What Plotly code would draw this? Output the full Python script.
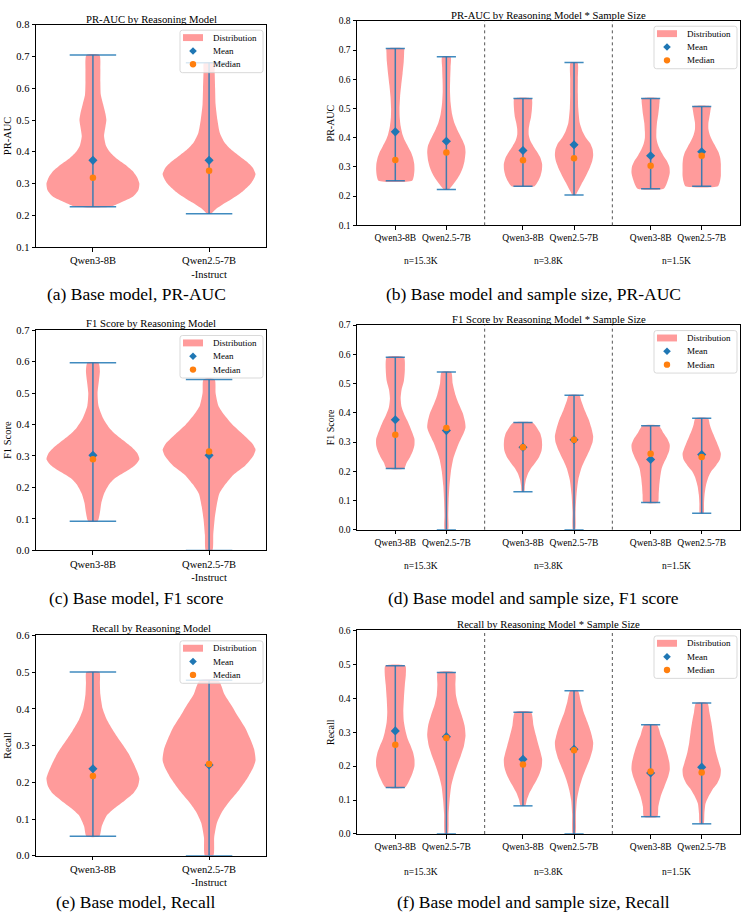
import plotly.graph_objects as go

FONT = '"Liberation Serif", "Times New Roman", Times, serif'

# ---------------- categories / labels ----------------
model_labels = ["Qwen3-8B", "Qwen2.5-7B<br>-Instruct"]
size_model_labels = ["Qwen3-8B", "Qwen2.5-7B"] * 3
size_groups = ["n=15.3K", "n=3.8K", "n=1.5K"]
legend_labels = ["Distribution", "Mean", "Median"]
model_positions = [1, 2]
size_positions = [0.8, 1.2, 1.8, 2.2, 2.8, 3.2]
group_positions = [1, 2, 3]
group_dividers = [1.5, 2.5]

# ---------------- (a) PR-AUC by model ----------------
pr_model_levels = [
    [0.227, 0.24, 0.26, 0.28, 0.30, 0.32, 0.34, 0.36, 0.38, 0.40, 0.42, 0.45, 0.48, 0.50, 0.52, 0.55, 0.58, 0.62, 0.66, 0.705],
    [0.205, 0.22, 0.24, 0.26, 0.28, 0.30, 0.32, 0.33, 0.35, 0.37, 0.39, 0.41, 0.43, 0.46, 0.50, 0.55, 0.60, 0.65, 0.68],
]
pr_model_density = [
    [0.38, 0.6, 0.87, 0.98, 1.0, 0.95, 0.85, 0.69, 0.5, 0.36, 0.28, 0.24, 0.27, 0.29, 0.27, 0.22, 0.17, 0.16, 0.16, 0.14],
    [0.04, 0.15, 0.36, 0.58, 0.76, 0.9, 0.98, 1.0, 0.94, 0.8, 0.62, 0.45, 0.33, 0.23, 0.18, 0.14, 0.13, 0.12, 0.11],
]
pr_model_mean = [0.373, 0.373]
pr_model_median = [0.318, 0.340]

# ---------------- (b) PR-AUC by model * sample size ----------------
pr_size_levels = [
    [0.253, 0.27, 0.29, 0.31, 0.33, 0.35, 0.37, 0.39, 0.41, 0.44, 0.47, 0.50, 0.54, 0.58, 0.62, 0.66, 0.69, 0.705],
    [0.223, 0.24, 0.26, 0.28, 0.30, 0.32, 0.35, 0.37, 0.39, 0.41, 0.43, 0.45, 0.48, 0.52, 0.56, 0.60, 0.64, 0.677],
    [0.234, 0.25, 0.27, 0.29, 0.31, 0.33, 0.35, 0.37, 0.39, 0.41, 0.43, 0.45, 0.47, 0.50, 0.534],
    [0.204, 0.22, 0.24, 0.26, 0.28, 0.30, 0.32, 0.34, 0.36, 0.38, 0.40, 0.42, 0.45, 0.50, 0.55, 0.60, 0.657],
    [0.225, 0.24, 0.26, 0.28, 0.30, 0.32, 0.34, 0.36, 0.38, 0.40, 0.42, 0.45, 0.48, 0.51, 0.534],
    [0.234, 0.25, 0.27, 0.29, 0.31, 0.33, 0.35, 0.37, 0.39, 0.41, 0.43, 0.45, 0.47, 0.49, 0.507],
]
pr_size_density = [
    [0.88, 0.97, 1.0, 0.99, 0.93, 0.82, 0.66, 0.5, 0.38, 0.28, 0.23, 0.22, 0.25, 0.31, 0.38, 0.44, 0.46, 0.45],
    [0.12, 0.35, 0.58, 0.75, 0.87, 0.95, 1.0, 0.97, 0.85, 0.7, 0.55, 0.42, 0.3, 0.22, 0.19, 0.2, 0.22, 0.22],
    [0.6, 0.78, 0.92, 0.99, 1.0, 0.92, 0.75, 0.55, 0.38, 0.3, 0.3, 0.35, 0.42, 0.47, 0.45],
    [0.08, 0.22, 0.38, 0.55, 0.7, 0.84, 0.95, 1.0, 0.97, 0.85, 0.62, 0.45, 0.3, 0.22, 0.2, 0.2, 0.18],
    [0.68, 0.82, 0.93, 1.0, 0.98, 0.85, 0.65, 0.48, 0.36, 0.3, 0.3, 0.33, 0.4, 0.45, 0.45],
    [0.85, 0.95, 1.0, 1.0, 1.0, 0.97, 0.88, 0.72, 0.55, 0.42, 0.35, 0.35, 0.4, 0.45, 0.47],
]
pr_size_mean = [0.420, 0.388, 0.356, 0.376, 0.338, 0.352]
pr_size_median = [0.324, 0.349, 0.323, 0.330, 0.304, 0.338]

# ---------------- (c) F1 by model ----------------
f1_model_levels = [
    [0.093, 0.12, 0.15, 0.18, 0.21, 0.23, 0.25, 0.27, 0.29, 0.31, 0.33, 0.35, 0.37, 0.39, 0.42, 0.46, 0.50, 0.54, 0.57, 0.596],
    [0.0, 0.05, 0.10, 0.14, 0.18, 0.21, 0.24, 0.27, 0.30, 0.32, 0.34, 0.37, 0.40, 0.43, 0.46, 0.50, 0.543],
]
f1_model_density = [
    [0.1, 0.15, 0.18, 0.24, 0.35, 0.48, 0.7, 0.9, 1.0, 0.95, 0.82, 0.65, 0.48, 0.35, 0.22, 0.12, 0.1, 0.13, 0.15, 0.12],
    [0.07, 0.09, 0.12, 0.16, 0.22, 0.35, 0.52, 0.78, 0.95, 1.0, 0.93, 0.72, 0.5, 0.33, 0.2, 0.14, 0.12],
]
f1_model_mean = [0.302, 0.302]
f1_model_median = [0.290, 0.314]

# ---------------- (d) F1 by model * sample size ----------------
f1_size_levels = [
    [0.209, 0.23, 0.25, 0.27, 0.29, 0.31, 0.33, 0.35, 0.37, 0.39, 0.42, 0.45, 0.48, 0.51, 0.55, 0.59],
    [0.0, 0.05, 0.10, 0.15, 0.20, 0.24, 0.27, 0.30, 0.33, 0.35, 0.37, 0.40, 0.43, 0.46, 0.50, 0.54],
    [0.13, 0.15, 0.17, 0.19, 0.21, 0.23, 0.25, 0.27, 0.29, 0.31, 0.33, 0.35, 0.367],
    [0.0, 0.06, 0.12, 0.17, 0.21, 0.24, 0.27, 0.30, 0.32, 0.35, 0.38, 0.41, 0.44, 0.46],
    [0.093, 0.12, 0.15, 0.18, 0.21, 0.23, 0.25, 0.27, 0.29, 0.31, 0.33, 0.356],
    [0.056, 0.09, 0.12, 0.15, 0.18, 0.20, 0.22, 0.24, 0.26, 0.28, 0.30, 0.32, 0.34, 0.36, 0.381],
]
f1_size_density = [
    [0.45, 0.6, 0.78, 0.92, 1.0, 1.0, 0.9, 0.78, 0.65, 0.5, 0.33, 0.28, 0.33, 0.45, 0.5, 0.45],
    [0.09, 0.1, 0.12, 0.16, 0.24, 0.35, 0.5, 0.68, 0.9, 1.0, 0.97, 0.85, 0.65, 0.48, 0.33, 0.25],
    [0.07, 0.1, 0.15, 0.25, 0.42, 0.65, 0.85, 0.97, 1.0, 0.98, 0.9, 0.72, 0.5],
    [0.06, 0.08, 0.13, 0.22, 0.38, 0.58, 0.8, 0.97, 1.0, 0.9, 0.75, 0.55, 0.38, 0.28],
    [0.38, 0.42, 0.45, 0.5, 0.58, 0.7, 0.85, 0.97, 1.0, 0.88, 0.68, 0.42],
    [0.1, 0.12, 0.15, 0.22, 0.35, 0.5, 0.75, 0.95, 1.0, 0.9, 0.78, 0.65, 0.52, 0.42, 0.33],
]
f1_size_mean = [0.376, 0.339, 0.282, 0.308, 0.240, 0.257]
f1_size_median = [0.325, 0.348, 0.282, 0.308, 0.260, 0.249]

# ---------------- (e) Recall by model ----------------
rc_model_levels = [
    [0.053, 0.08, 0.11, 0.13, 0.15, 0.17, 0.19, 0.21, 0.23, 0.25, 0.28, 0.31, 0.34, 0.37, 0.40, 0.44, 0.47, 0.50],
    [0.0, 0.05, 0.09, 0.12, 0.15, 0.18, 0.21, 0.24, 0.26, 0.29, 0.32, 0.35, 0.38, 0.41, 0.44, 0.478],
]
rc_model_density = [
    [0.14, 0.19, 0.3, 0.47, 0.68, 0.87, 0.97, 1.0, 0.95, 0.88, 0.76, 0.6, 0.44, 0.3, 0.21, 0.16, 0.15, 0.14],
    [0.09, 0.11, 0.17, 0.28, 0.45, 0.65, 0.82, 0.95, 1.0, 0.97, 0.88, 0.77, 0.62, 0.48, 0.33, 0.2],
]
rc_model_mean = [0.237, 0.247]
rc_model_median = [0.217, 0.250]

# ---------------- (f) Recall by model * sample size ----------------
rc_size_levels = [
    [0.137, 0.16, 0.18, 0.20, 0.22, 0.24, 0.26, 0.28, 0.30, 0.33, 0.36, 0.40, 0.44, 0.47, 0.496],
    [0.0, 0.06, 0.10, 0.14, 0.17, 0.20, 0.23, 0.26, 0.29, 0.32, 0.35, 0.38, 0.41, 0.44, 0.476],
    [0.083, 0.10, 0.12, 0.14, 0.16, 0.18, 0.20, 0.22, 0.24, 0.26, 0.29, 0.32, 0.359],
    [0.0, 0.06, 0.10, 0.13, 0.16, 0.19, 0.22, 0.25, 0.27, 0.30, 0.33, 0.36, 0.39, 0.422],
    [0.051, 0.08, 0.11, 0.14, 0.17, 0.19, 0.21, 0.23, 0.25, 0.27, 0.29, 0.322],
    [0.03, 0.06, 0.09, 0.11, 0.13, 0.15, 0.17, 0.19, 0.21, 0.24, 0.27, 0.30, 0.33, 0.36, 0.386],
]
rc_size_density = [
    [0.5, 0.75, 0.9, 1.0, 1.0, 0.93, 0.8, 0.65, 0.55, 0.45, 0.42, 0.45, 0.5, 0.55, 0.52],
    [0.08, 0.12, 0.17, 0.25, 0.38, 0.55, 0.75, 0.92, 1.0, 0.95, 0.8, 0.62, 0.5, 0.47, 0.45],
    [0.12, 0.2, 0.33, 0.52, 0.72, 0.88, 0.98, 1.0, 0.92, 0.82, 0.68, 0.55, 0.42],
    [0.07, 0.1, 0.15, 0.25, 0.4, 0.6, 0.82, 0.97, 1.0, 0.88, 0.7, 0.5, 0.35, 0.2],
    [0.35, 0.4, 0.52, 0.72, 0.92, 1.0, 0.98, 0.9, 0.8, 0.68, 0.53, 0.33],
    [0.1, 0.14, 0.2, 0.35, 0.55, 0.82, 0.97, 1.0, 0.9, 0.75, 0.65, 0.58, 0.5, 0.4, 0.3],
]
rc_size_mean = [0.304, 0.287, 0.220, 0.250, 0.180, 0.197]
rc_size_median = [0.263, 0.283, 0.205, 0.247, 0.184, 0.181]

# ---------------- styling ----------------
VIOLIN_FILL = "#ff9b9b"
LINE_COLOR = "rgba(31,119,180,0.85)"
MEAN_COLOR = "#1f77b4"
MEDIAN_COLOR = "#ff7f0e"
W, H = 747, 923


def fx(px):
    return px / W


def fy(py):
    return 1 - py / H


def rounded_rect_path(l, t, r, b, rad):
    pts = [
        ("M", [(l + rad, t)]), ("L", [(r - rad, t)]), ("Q", [(r, t), (r, t + rad)]),
        ("L", [(r, b - rad)]), ("Q", [(r, b), (r - rad, b)]), ("L", [(l + rad, b)]),
        ("Q", [(l, b), (l, b - rad)]), ("L", [(l, t + rad)]), ("Q", [(l, t), (l + rad, t)]),
    ]
    s = ""
    for cmd, pp in pts:
        s += cmd + " " + " ".join(f"{fx(x):.5f},{fy(y):.5f}" for x, y in pp) + " "
    return s + "Z"


def diamond_path(cx, cy, r):
    return (f"M {fx(cx):.5f},{fy(cy - r):.5f} L {fx(cx + r):.5f},{fy(cy):.5f} "
            f"L {fx(cx):.5f},{fy(cy + r):.5f} L {fx(cx - r):.5f},{fy(cy):.5f} Z")


panels = [
    dict(title="PR-AUC by Reasoning Model", ylabel="PR-AUC", yr=[0.1, 0.8], kind="model",
         lev=pr_model_levels, den=pr_model_density, mean=pr_model_mean, med=pr_model_median,
         top=20, bot=245, title_y=14, cap_y=292, caption="(a) Base model, PR-AUC"),
    dict(title="PR-AUC by Reasoning Model * Sample Size", ylabel="PR-AUC", yr=[0.1, 0.8], kind="size",
         lev=pr_size_levels, den=pr_size_density, mean=pr_size_mean, med=pr_size_median,
         top=16, bot=223, title_y=10.5, cap_y=292, caption="(b) Base model and sample size, PR-AUC",
         n_y=259),
    dict(title="F1 Score by Reasoning Model", ylabel="F1 Score", yr=[0.0, 0.7], kind="model",
         lev=f1_model_levels, den=f1_model_density, mean=f1_model_mean, med=f1_model_median,
         top=329, bot=552, title_y=322, cap_y=600, caption="(c) Base model, F1 score"),
    dict(title="F1 Score by Reasoning Model * Sample Size", ylabel="F1 Score", yr=[0.0, 0.7], kind="size",
         lev=f1_size_levels, den=f1_size_density, mean=f1_size_mean, med=f1_size_median,
         top=324, bot=531, title_y=318, cap_y=600, caption="(d) Base model and sample size, F1 score",
         n_y=568),
    dict(title="Recall by Reasoning Model", ylabel="Recall", yr=[0.0, 0.6], kind="model",
         lev=rc_model_levels, den=rc_model_density, mean=rc_model_mean, med=rc_model_median,
         top=638, bot=861, title_y=631, cap_y=908, caption="(e) Base model, Recall"),
    dict(title="Recall by Reasoning Model * Sample Size", ylabel="Recall", yr=[0.0, 0.6], kind="size",
         lev=rc_size_levels, den=rc_size_density, mean=rc_size_mean, med=rc_size_median,
         top=633, bot=839, title_y=626, cap_y=908, caption="(f) Base model and sample size, Recall",
         n_y=877),
]

LEFT_X = (36, 266)
RIGHT_X = (357, 740)

fig = go.Figure()
annotations = []
shapes = []
layout = {}

for k, p in enumerate(panels, start=1):
    sfx = "" if k == 1 else str(k)
    xa, ya = "x" + sfx, "y" + sfx
    if p["kind"] == "model":
        positions, half, cap = model_positions, 0.4, 0.2
        xr = [0.51, 2.49]
        xdom = LEFT_X
        ticktext = model_labels
        caption_x = 136
        tick_size, lab_size = 10.5, 10.5
    else:
        positions, half, cap = size_positions, 0.15, 0.075
        xr = [0.5, 3.5]
        xdom = RIGHT_X
        ticktext = size_model_labels
        caption_x = 533
        tick_size, lab_size = 9.5, 10

    # violin bodies
    for i, pos in enumerate(positions):
        lev, den = p["lev"][i], p["den"][i]
        xs = [pos + half * d for d in den] + [pos - half * d for d in den[::-1]]
        ys = list(lev) + list(lev[::-1])
        xs.append(xs[0])
        ys.append(ys[0])
        fig.add_trace(go.Scatter(
            x=xs, y=ys, xaxis=xa, yaxis=ya, mode="lines", fill="toself",
            fillcolor=VIOLIN_FILL, line=dict(color="rgba(0,0,0,0)", width=0.5, shape="spline", smoothing=0.6),
            name="Distribution", showlegend=False, hoverinfo="skip",
        ))

    # bars and extrema caps
    lx, ly = [], []
    for i, pos in enumerate(positions):
        lo, hi = p["lev"][i][0], p["lev"][i][-1]
        lx += [pos, pos, None, pos - cap, pos + cap, None, pos - cap, pos + cap, None]
        ly += [lo, hi, None, lo, lo, None, hi, hi, None]
    fig.add_trace(go.Scatter(x=lx, y=ly, xaxis=xa, yaxis=ya, mode="lines",
                             line=dict(color=LINE_COLOR, width=1.5), showlegend=False,
                             hoverinfo="skip"))

    fig.add_trace(go.Scatter(x=positions, y=p["mean"], xaxis=xa, yaxis=ya, mode="markers",
                             marker=dict(symbol="diamond", color=MEAN_COLOR, size=7),
                             name="Mean", showlegend=False))
    fig.add_trace(go.Scatter(x=positions, y=p["med"], xaxis=xa, yaxis=ya, mode="markers",
                             marker=dict(symbol="circle", color=MEDIAN_COLOR, size=6.5),
                             name="Median", showlegend=False))

    axis_common = dict(showline=True, linecolor="black", linewidth=1, mirror=True,
                       ticks="outside", ticklen=3.5, tickwidth=0.8, tickcolor="black",
                       showgrid=False, zeroline=False,
                       tickfont=dict(family=FONT, size=tick_size, color="black"))
    layout["xaxis" + sfx] = dict(axis_common, domain=[fx(xdom[0]), fx(xdom[1])], range=xr,
                                 tickmode="array", tickvals=positions, ticktext=ticktext,
                                 tickangle=0, anchor=ya)
    layout["yaxis" + sfx] = dict(axis_common, domain=[fy(p["bot"]), fy(p["top"])], range=p["yr"],
                                 dtick=0.1, tickformat=".1f", anchor=xa,
                                 title=dict(text=p["ylabel"], standoff=2,
                                            font=dict(family=FONT, size=lab_size, color="black")))

    # legend (matplotlib-style, upper right)
    box_r = xdom[1] - 3
    box_l = box_r - 83
    box_t = p["top"] + 5.5
    box_b = box_t + 43
    rows = [box_t + 7.5, box_t + 21, box_t + 34.5]
    sym_x = box_l + 13
    shapes.append(dict(type="path", xref="paper", yref="paper", layer="above",
                       path=rounded_rect_path(box_l, box_t, box_r, box_b, 2.5),
                       fillcolor="rgba(255,255,255,0.8)", line=dict(color="#cfcfcf", width=0.8)))
    shapes.append(dict(type="rect", xref="paper", yref="paper", layer="above",
                       x0=fx(box_l + 3), x1=fx(box_l + 23), y0=fy(rows[0] + 3.5), y1=fy(rows[0] - 3.5),
                       fillcolor=VIOLIN_FILL, line=dict(width=0)))
    shapes.append(dict(type="path", xref="paper", yref="paper", layer="above",
                       path=diamond_path(sym_x, rows[1], 3.8),
                       fillcolor=MEAN_COLOR, line=dict(width=0)))
    shapes.append(dict(type="circle", xref="paper", yref="paper", layer="above",
                       x0=fx(sym_x - 3.2), x1=fx(sym_x + 3.2), y0=fy(rows[2] + 3.2), y1=fy(rows[2] - 3.2),
                       fillcolor=MEDIAN_COLOR, line=dict(width=0)))
    for lbl, ry in zip(legend_labels, rows):
        annotations.append(dict(text=lbl, xref="paper", yref="paper", x=fx(box_l + 31), y=fy(ry),
                                xanchor="left", yanchor="middle", showarrow=False,
                                font=dict(family=FONT, size=9, color="black")))

    # panel title
    annotations.append(dict(text=p["title"], xref="paper", yref="paper",
                            x=fx((xdom[0] + xdom[1]) / 2), y=fy(p["title_y"]),
                            xanchor="center", yanchor="middle", showarrow=False,
                            font=dict(family=FONT, size=10.7, color="black")))
    # caption
    annotations.append(dict(text=p["caption"], xref="paper", yref="paper",
                            x=fx(caption_x), y=fy(p["cap_y"]), xanchor="center", yanchor="middle",
                            showarrow=False, font=dict(family=FONT, size=17.5, color="black")))

    if p["kind"] == "size":
        for g, gp in zip(size_groups, group_positions):
            annotations.append(dict(text=g, xref=xa, yref="paper", x=gp, y=fy(p["n_y"]),
                                    xanchor="center", yanchor="middle", showarrow=False,
                                    font=dict(family=FONT, size=9.5, color="black")))
        for dv in group_dividers:
            shapes.append(dict(type="line", xref=xa, yref=ya + " domain", x0=dv, x1=dv, y0=0, y1=1,
                               line=dict(color="#555555", width=1, dash="dot")))

fig.update_layout(
    width=W, height=H, autosize=False,
    margin=dict(l=0, r=0, t=0, b=0),
    paper_bgcolor="white", plot_bgcolor="white",
    annotations=annotations, shapes=shapes, showlegend=False,
    font=dict(family=FONT, color="black"),
    **layout,
)

fig.write_html("out.html")
